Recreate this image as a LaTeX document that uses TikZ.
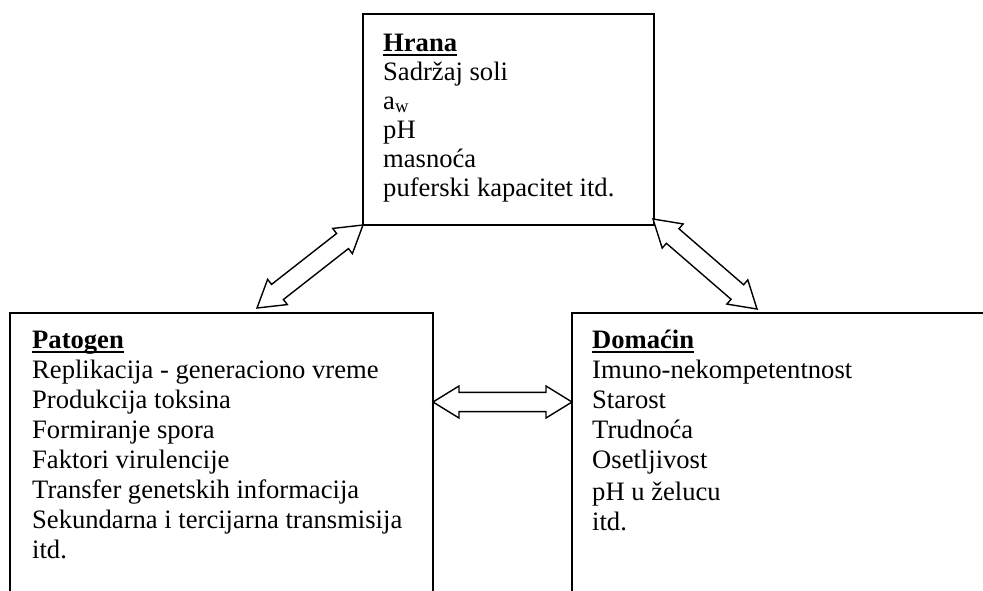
\documentclass[tikz,border=0pt]{standalone}
\usepackage{fontspec}
\setmainfont{Liberation Serif}
\usetikzlibrary{calc}

% bold heading with a thick underline through the descenders
\newcommand{\uhead}[1]{\setbox0=\hbox{\bfseries #1}\rlap{\rule[-5.2pt]{\wd0}{2.2pt}}\box0}

% hollow two-headed block arrow between two points
\newcommand{\dblarrow}[2]{%
  \draw[blockarrow] (#1)
    -- ($(#1)!26pt!(#2)!16pt!90:(#2)$)
    -- ($(#1)!26pt!(#2)!9.6pt!90:(#2)$)
    -- ($(#2)!26pt!(#1)!9.6pt!-90:(#1)$)
    -- ($(#2)!26pt!(#1)!16pt!-90:(#1)$)
    -- (#2)
    -- ($(#2)!26pt!(#1)!16pt!90:(#1)$)
    -- ($(#2)!26pt!(#1)!9.6pt!90:(#1)$)
    -- ($(#1)!26pt!(#2)!9.6pt!-90:(#2)$)
    -- ($(#1)!26pt!(#2)!16pt!-90:(#2)$)
    -- cycle;}

\begin{document}
\begin{tikzpicture}[x=1pt,y=-1pt,
  box/.style={draw=black, line width=1.6pt, rectangle, inner sep=0pt, outer sep=0pt, anchor=north west},
  blockarrow/.style={draw=black, fill=white, line width=1.4pt, line join=miter},
  txt/.style={anchor=base west, inner sep=0pt, font=\fontsize{26.6}{30}\selectfont}]

\useasboundingbox (0,0) rectangle (983,590);

% frames
\node[box, minimum width=291pt, minimum height=211pt] (hrana) at (363,14) {};
\node[box, minimum width=423pt, minimum height=330pt] (patogen) at (10,313) {};
\node[box, minimum width=500pt, minimum height=330pt] (domacin) at (572,313) {};

% food
\node[txt] (h0) at (383,51)  {\uhead{Hrana}};
\node[txt] (h1) at (383,80)  {Sadržaj soli};
\node[txt] (h2) at (383,109) {a\textsubscript{w}};
\node[txt] (h3) at (383,138) {pH};
\node[txt] (h4) at (383,167) {masnoća};
\node[txt] (h5) at (383,196) {puferski kapacitet itd.};

% pathogen
\node[txt] (p0) at (32,348) {\uhead{Patogen}};
\node[txt] (p1) at (32,378) {Replikacija - generaciono vreme};
\node[txt] (p2) at (32,408) {Produkcija toksina};
\node[txt] (p3) at (32,438) {Formiranje spora};
\node[txt] (p4) at (32,468) {Faktori virulencije};
\node[txt] (p5) at (32,498) {Transfer genetskih informacija};
\node[txt] (p6) at (32,528) {Sekundarna i tercijarna transmisija};
\node[txt] (p7) at (32,558) {itd.};

% host
\node[txt] (d0) at (592,348) {\uhead{Domaćin}};
\node[txt] (d1) at (592,378) {Imuno-nekompetentnost};
\node[txt] (d2) at (592,408) {Starost};
\node[txt] (d3) at (592,438) {Trudnoća};
\node[txt] (d4) at (592,468) {Osetljivost};
\node[txt] (d5) at (592,500) {pH u želucu};
\node[txt] (d6) at (592,530) {itd.};

% arrow ends
\coordinate (pTip) at (257,308);
\coordinate (dTip) at (757,309);
\coordinate (hTip) at ($(hrana.south east)+(-1,-6)$);
\coordinate (pSide) at ($(patogen.north east)+(0,89)$);
\coordinate (dSide) at ($(domacin.north west)+(0,89)$);

\dblarrow{hrana.south west}{pTip}
\dblarrow{hTip}{dTip}
\dblarrow{pSide}{dSide}

\end{tikzpicture}
\end{document}
